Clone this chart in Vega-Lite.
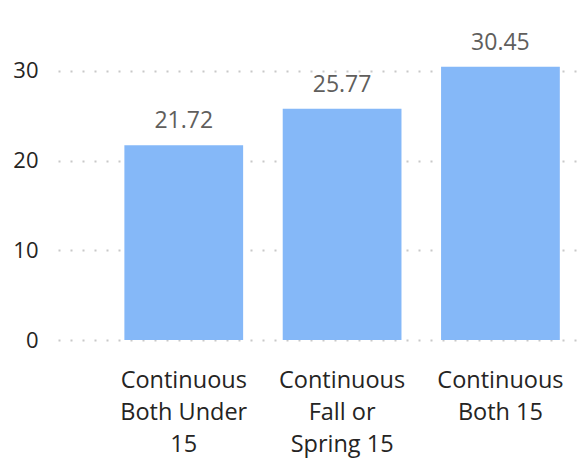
{
  "$schema": "https://vega.github.io/schema/vega-lite/v6.json",
  "autosize": "none",
  "width": 520,
  "height": 314,
  "padding": {"left": 58, "top": 26, "right": 2, "bottom": 118},
  "data": {"values": [
    {"category": "Continuous|Both Under|15", "value": 21.72},
    {"category": "Continuous|Fall or|Spring 15", "value": 25.77},
    {"category": "Continuous|Both 15", "value": 30.45}
  ]},
  "config": {
    "view": {"stroke": null},
    "font": "Open Sans"
  },
  "encoding": {
    "x": {
      "field": "category", "type": "nominal", "sort": null,
      "scale": {"paddingInner": 0.25, "paddingOuter": 0.267, "align": 0.785},
      "axis": {
        "title": null, "labelAngle": 0, "domain": false, "ticks": false,
        "labelExpr": "split(datum.value, '|')",
        "labelFontSize": 23.5, "labelLineHeight": 32, "labelColor": "#252423",
        "labelPadding": 28, "labelBaseline": "top", "labelLimit": 200
      }
    },
    "y": {
      "field": "value", "type": "quantitative",
      "scale": {"domain": [0, 35], "nice": false},
      "axis": {
        "title": null, "values": [0, 10, 20, 30], "domain": false, "ticks": false,
        "labelFontSize": 22, "labelColor": "#252423", "labelPadding": 20,
        "gridColor": "#C8C8C8", "gridDash": [2, 10], "gridWidth": 2
      }
    }
  },
  "layer": [
    {"mark": {"type": "bar", "color": "#85B8F8"}},
    {"mark": {"type": "text", "dy": -24, "fontSize": 23, "color": "#605E5C"},
     "encoding": {"text": {"field": "value", "type": "quantitative", "format": ".2f"}}}
  ]
}
